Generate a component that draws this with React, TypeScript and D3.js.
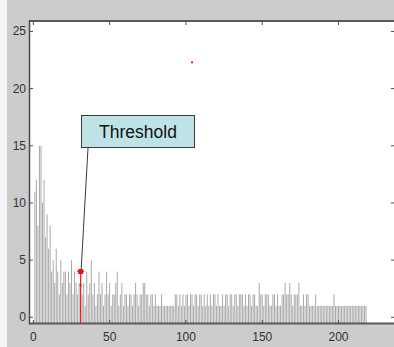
import React from "react";
import * as d3 from "d3";

const W = 394;
const H = 347;

// bar values for x = 1..218
const counts: number[] = [
  11, 12, 8, 15, 15, 10, 12, 7, 9, 6,
  8, 4, 5, 3, 6, 4, 2, 5, 3, 4,
  4, 2, 4, 3, 5, 2, 4, 3, 2, 3,
  4, 2, 3, 1, 4, 2, 3, 5, 2, 3,
  1, 2, 4, 2, 3, 1, 2, 4, 2, 3,
  1, 2, 2, 3, 4, 1, 2, 3, 1, 2,
  2, 1, 2, 2, 1, 2, 3, 2, 1, 2,
  2, 3, 3, 2, 2, 1, 2, 2, 1, 2,
  1, 1, 1, 2, 1, 1, 1, 1, 1, 1,
  1, 1, 2, 2, 1, 2, 1, 2, 1, 2,
  2, 1, 2, 2, 1, 2, 2, 1, 2, 2,
  1, 2, 1, 2, 1, 2, 1, 2, 2, 1,
  2, 1, 1, 2, 1, 2, 2, 1, 2, 2,
  1, 2, 2, 1, 2, 2, 2, 1, 2, 1,
  2, 2, 1, 2, 2, 1, 1, 3, 2, 2,
  1, 2, 2, 2, 1, 1, 2, 2, 1, 2,
  1, 1, 2, 2, 3, 2, 2, 3, 2, 1,
  2, 2, 2, 3, 1, 1, 2, 1, 2, 2,
  1, 1, 1, 1, 2, 1, 1, 1, 1, 1,
  1, 1, 1, 1, 1, 1, 2, 1, 1, 1,
  1, 1, 1, 1, 1, 1, 1, 1, 1, 1,
  1, 1, 1, 1, 1, 1, 1, 1,
];
const xStart = 1;

const xTicks = [0, 50, 100, 150, 200];
const yTicks = [0, 5, 10, 15, 20, 25];

const thresholdX = [31];
const thresholdY = [4];
const thresholdDot = [2.8];
const strayPoint = [104, 22.3];
const annotationLabel = "Threshold";

export default function App() {
  const x = d3.scaleLinear().domain([-2.2, 237]).range([30, 395]);
  const y = d3.scaleLinear().domain([-0.5, 26]).range([323, 20]);
  const y0 = y(-0.5);

  const tx = x(thresholdX[0]);
  const ty = y(thresholdY[0]);

  return (
    <svg
      width={W}
      height={H}
      style={{ position: "absolute", left: 0, top: 0, display: "block" }}
      fontFamily="Liberation Sans, Arial, sans-serif"
    >
      <rect x={0} y={0} width={W} height={H} fill="#cccccc" />
      <rect x={0} y={0} width={7} height={H} fill="#f4f4f4" />
      {/* plot area */}
      <rect x={30} y={21} width={W - 30} height={302} fill="#ffffff" />

      {/* bars */}
      <g>
        {counts.map((v, i) => {
          const xv = x(xStart + i);
          return (
            <line
              key={i}
              x1={xv}
              x2={xv}
              y1={y0}
              y2={y(v)}
              stroke="#8c8c8c"
              strokeWidth={0.75}
            />
          );
        })}
      </g>

      {/* threshold marker */}
      <line x1={tx} x2={tx} y1={y0} y2={ty} stroke="#ff0000" strokeWidth={1} />
      <rect x={tx - 2.5} y={ty - 2.5} width={5} height={5} fill="#ee1111" />
      <line x1={tx - 3.5} x2={tx + 3.5} y1={ty} y2={ty} stroke="#ee1111" strokeWidth={1} />
      <rect x={tx - 1} y={y(thresholdDot[0]) - 1} width={2} height={2} fill="#ee1111" />
      <rect x={x(strayPoint[0]) - 1} y={y(strayPoint[1]) - 1} width={2} height={2} fill="#ff2222" />

      {/* axes frame */}
      <line x1={29.5} x2={W} y1={21} y2={21} stroke="#5a5a5a" strokeWidth={2} />
      <line x1={29.5} x2={W} y1={323.5} y2={323.5} stroke="#5a5a5a" strokeWidth={2} />
      <line x1={29.5} x2={29.5} y1={20} y2={324.5} stroke="#4a4a4a" strokeWidth={1.5} />

      {/* y ticks */}
      {yTicks.map((t) => (
        <g key={"y" + t}>
          <line x1={30} x2={33} y1={y(t)} y2={y(t)} stroke="#4a4a4a" strokeWidth={1} />
          <line x1={W - 3} x2={W} y1={y(t)} y2={y(t)} stroke="#4a4a4a" strokeWidth={1} />
          <text
            x={26}
            y={y(t)}
            textAnchor="end"
            dominantBaseline="central"
            fontSize={12}
            fill="#333333"
          >
            {t}
          </text>
        </g>
      ))}

      {/* x ticks */}
      {xTicks.map((t) => (
        <g key={"x" + t}>
          <line x1={x(t)} x2={x(t)} y1={323} y2={320} stroke="#4a4a4a" strokeWidth={1} />
          <line x1={x(t)} x2={x(t)} y1={22} y2={25} stroke="#4a4a4a" strokeWidth={1} />
          <text
            x={x(t)}
            y={341}
            textAnchor="middle"
            fontSize={12}
            fill="#333333"
          >
            {t}
          </text>
        </g>
      ))}

      {/* annotation */}
      <line x1={88} y1={148} x2={tx + 0.5} y2={ty - 2} stroke="#3a3a3a" strokeWidth={1} />
      <rect x={81.5} y={115.5} width={113} height={32} fill="#bde3e6" stroke="#3a3a3a" strokeWidth={1} />
      <text x={138} y={138} textAnchor="middle" fontSize={17.5} fill="#111111">
        {annotationLabel}
      </text>
    </svg>
  );
}
